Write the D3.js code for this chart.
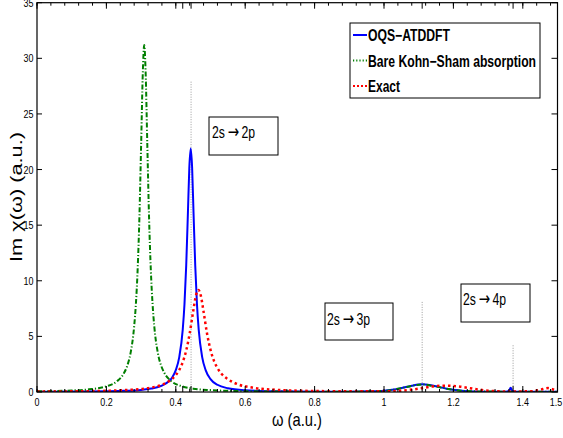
<!DOCTYPE html>
<html>
<head>
<meta charset="utf-8">
<script src="https://cdn.jsdelivr.net/npm/d3@7"></script>
<style>
  body { margin: 0; background: #fff; }
  text { font-family: "Liberation Sans", Arial, sans-serif; }
</style>
</head>
<body>
<div id="chart"></div>
<script>
// OQS-ATDDFT (blue, solid)
var omegaBlue = [0, 0.1, 0.2, 0.25, 0.3, 0.33, 0.36, 0.38, 0.39, 0.40, 0.41, 0.42, 0.425, 0.43, 0.435, 0.439, 0.443,
    0.447, 0.451, 0.456, 0.461, 0.466, 0.476, 0.486, 0.5, 0.52, 0.55, 0.6, 0.7, 0.8, 0.9, 0.95, 1.0, 1.03, 1.06,
    1.08, 1.1, 1.112, 1.125, 1.14, 1.16, 1.18, 1.2, 1.23, 1.26, 1.3, 1.35, 1.36, 1.365, 1.37, 1.38, 1.45, 1.5];
var imBlue = [0.02, 0.034, 0.068, 0.107, 0.19, 0.31, 0.57, 0.96, 1.33, 1.97, 3.14, 5.61, 7.89, 11.37, 16.2, 20.2, 21.9,
    20.2, 16.2, 11.37, 7.89, 5.61, 3.14, 1.97, 1.16, 0.65, 0.34, 0.16, 0.06, 0.03, 0.03, 0.06, 0.12, 0.22, 0.42,
    0.56, 0.67, 0.69, 0.66, 0.58, 0.44, 0.3, 0.2, 0.1, 0.05, 0.03, 0.03, 0.1, 0.38, 0.1, 0.03, 0.02, 0.02];

// Bare Kohn-Sham absorption (green, dash-dot)
var omegaGreen = [0, 0.1, 0.15, 0.2, 0.23, 0.25, 0.26, 0.27, 0.28, 0.285, 0.29, 0.295, 0.3, 0.305, 0.309, 0.313,
    0.318, 0.323, 0.328, 0.333, 0.338, 0.348, 0.358, 0.368, 0.388, 0.418, 0.45, 0.5, 0.6, 0.7, 0.8, 0.9, 1.0,
    1.05, 1.08, 1.11, 1.14, 1.18, 1.22, 1.3, 1.4, 1.5];
var imGreen = [0.064, 0.14, 0.24, 0.51, 0.95, 1.66, 2.35, 3.56, 5.9, 7.92, 10.98, 15.6, 22.1, 28.8, 31.2, 28.8,
    22.1, 15.6, 10.98, 7.92, 5.9, 3.56, 2.35, 1.66, 0.95, 0.51, 0.3, 0.17, 0.072, 0.04, 0.03, 0.03, 0.1,
    0.35, 0.55, 0.68, 0.55, 0.3, 0.12, 0.04, 0.03, 0.03];

// Exact (red, dotted)
var omegaRed = [0, 0.1, 0.2, 0.25, 0.3, 0.33, 0.36, 0.38, 0.4, 0.41, 0.42, 0.43, 0.44, 0.45, 0.458, 0.465, 0.472,
    0.48, 0.49, 0.5, 0.51, 0.52, 0.53, 0.55, 0.58, 0.62, 0.7, 0.8, 0.9, 1.0, 1.05, 1.1, 1.14, 1.18, 1.22, 1.26,
    1.3, 1.35, 1.42, 1.45, 1.473, 1.49, 1.5];
var imRed = [0.036, 0.058, 0.108, 0.164, 0.27, 0.4, 0.65, 0.96, 1.52, 1.99, 2.69, 3.73, 5.26, 7.23, 8.67, 9.17, 8.67,
    7.23, 5.26, 3.8, 2.8, 2.15, 1.7, 1.15, 0.68, 0.4, 0.18, 0.09, 0.06, 0.06, 0.12, 0.3, 0.5, 0.57, 0.48, 0.28,
    0.12, 0.05, 0.06, 0.2, 0.35, 0.2, 0.1];

// transition markers (dotted gray lines) and tick labels
var transitionOmega = [0.444, 1.11, 1.372];
var transitionTop = [27.9, 8.1, 4.2];
var xTickLabels = ["0", "0.2", "0.4", "0.6", "0.8", "1", "1.2", "1.4", "1.5"];
var xTickValues = [0, 0.2, 0.4, 0.6, 0.8, 1, 1.2, 1.4, 1.5];
var yTickValues = [0, 5, 10, 15, 20, 25, 30, 35];
var seriesNames = ["OQS\u2212ATDDFT", "Bare Kohn\u2212Sham absorption", "Exact"];

var width = 563, height = 438;
var margin = {top: 2.7, right: 5.5, bottom: 46, left: 37};

var svg = d3.select("#chart").append("svg")
    .attr("width", width)
    .attr("height", height);

var x = d3.scaleLinear().domain([0, 1.5]).range([margin.left, width - margin.right]);
var y = d3.scaleLinear().domain([0, 35]).range([height - margin.bottom, margin.top]);

// narrow text: the original uses a condensed Helvetica
function narrowText(sel, tx, ty, sx) {
    return sel.append("text")
        .attr("transform", "translate(" + tx + "," + ty + ") scale(" + sx + ",1)");
}

var plot = svg.append("g");

svg.append("clipPath").attr("id", "clip")
    .append("rect")
    .attr("x", margin.left).attr("y", margin.top)
    .attr("width", x(1.5) - x(0)).attr("height", y(0) - y(35));

// dotted transition lines
plot.selectAll("line.trans")
    .data(transitionOmega)
    .enter().append("line")
    .attr("class", "trans")
    .attr("x1", function(d) { return x(d); })
    .attr("x2", function(d) { return x(d); })
    .attr("y1", function(d, i) { return y(transitionTop[i]); })
    .attr("y2", y(0))
    .attr("stroke", "#9a9a9a")
    .attr("stroke-width", 1)
    .attr("stroke-dasharray", "1,1.5");

var line = d3.line()
    .x(function(d) { return x(d[0]); })
    .y(function(d) { return y(d[1]); })
    .curve(d3.curveMonotoneX);

function pairs(xs, ys) {
    return xs.map(function(v, i) { return [v, ys[i]]; });
}

var curves = plot.append("g").attr("clip-path", "url(#clip)");

curves.append("path")
    .datum(pairs(omegaBlue, imBlue))
    .attr("d", line)
    .attr("fill", "none")
    .attr("stroke", "#0000ff")
    .attr("stroke-width", 2);

curves.append("path")
    .datum(pairs(omegaGreen, imGreen))
    .attr("d", line)
    .attr("fill", "none")
    .attr("stroke", "#007f00")
    .attr("stroke-width", 2)
    .attr("stroke-dasharray", "5,2,1.2,2");

curves.append("path")
    .datum(pairs(omegaRed, imRed))
    .attr("d", line)
    .attr("fill", "none")
    .attr("stroke", "#ff0000")
    .attr("stroke-width", 2.5)
    .attr("stroke-dasharray", "2.5,3");

// frame
svg.append("rect")
    .attr("x", x(0)).attr("y", y(35))
    .attr("width", x(1.5) - x(0)).attr("height", y(0) - y(35))
    .attr("fill", "none")
    .attr("stroke", "#000")
    .attr("stroke-width", 1.2);

// x ticks (bottom and top, inward)
var xMinor = d3.range(0, 1.5, 0.04);
var xExtra = [0.42, 0.444, 1.11, 1.372];
var ticks = svg.append("g").attr("stroke", "#000").attr("stroke-width", 1);
[y(0), y(35)].forEach(function(y0, k) {
    var dir = k === 0 ? -1 : 1;
    xMinor.forEach(function(v) {
        ticks.append("line").attr("x1", x(v)).attr("x2", x(v))
            .attr("y1", y0).attr("y2", y0 + dir * 3);
    });
    xTickValues.concat(xExtra).forEach(function(v) {
        ticks.append("line").attr("x1", x(v)).attr("x2", x(v))
            .attr("y1", y0).attr("y2", y0 + dir * 6);
    });
});
// y ticks (left and right, inward)
yTickValues.forEach(function(v) {
    ticks.append("line").attr("x1", x(0)).attr("x2", x(0) + 5)
        .attr("y1", y(v)).attr("y2", y(v));
    ticks.append("line").attr("x1", x(1.5)).attr("x2", x(1.5) - 6)
        .attr("y1", y(v)).attr("y2", y(v));
});

// tick labels
xTickValues.forEach(function(v, i) {
    var px = x(v);
    if (v === 1.5) px = 556;
    narrowText(svg, px, 406, 0.78)
        .attr("text-anchor", "middle")
        .attr("font-size", 11.5)
        .text(xTickLabels[i]);
});
yTickValues.forEach(function(v) {
    narrowText(svg, 33.5, y(v) + 4, 0.78)
        .attr("text-anchor", "end")
        .attr("font-size", 11.5)
        .text(v);
});

// axis titles
svg.append("text")
    .attr("x", 272)
    .attr("y", 426)
    .attr("font-size", 19)
    .attr("textLength", 50)
    .attr("lengthAdjust", "spacingAndGlyphs")
    .text("\u03c9 (a.u.)");

svg.append("text")
    .attr("transform", "translate(21.5,262) rotate(-90)")
    .attr("font-size", 16)
    .attr("textLength", 130)
    .attr("lengthAdjust", "spacingAndGlyphs")
    .text("Im \u03c7(\u03c9) (a.u.)");

// annotation boxes
var boxes = [
    {x: 209, y: 117, w: 69, h: 38, tx: 212, ty: 138, a: "2s", b: "2p"},
    {x: 325, y: 303, w: 68, h: 37, tx: 327, ty: 325, a: "2s", b: "3p"},
    {x: 461, y: 284, w: 69, h: 38, tx: 463, ty: 305, a: "2s", b: "4p"}
];
boxes.forEach(function(bx) {
    svg.append("rect")
        .attr("x", bx.x).attr("y", bx.y).attr("width", bx.w).attr("height", bx.h)
        .attr("fill", "#fff").attr("stroke", "#000").attr("stroke-width", 1);
    var t = narrowText(svg, bx.tx, bx.ty, 0.72).attr("font-size", 17);
    t.append("tspan").text(bx.a);
    t.append("tspan").attr("dx", 4).attr("font-family", "DejaVu Sans").attr("font-size", 19).text("\u2192");
    t.append("tspan").attr("dx", 3).text(bx.b);
});

// legend
var legend = svg.append("g");
legend.append("rect")
    .attr("x", 350).attr("y", 23).attr("width", 190).attr("height", 75)
    .attr("fill", "#fff").attr("stroke", "#000").attr("stroke-width", 1);
var legendColors = ["#0000ff", "#007f00", "#ff0000"];
var legendDash = [null, "1.2,2", "2,2"];
var legendLen = [82, 168, 32];
seriesNames.forEach(function(name, i) {
    var ly = 35 + i * 25.5;
    legend.append("line")
        .attr("x1", 353).attr("x2", 367)
        .attr("y1", ly).attr("y2", ly)
        .attr("stroke", legendColors[i])
        .attr("stroke-width", 2)
        .attr("stroke-dasharray", legendDash[i]);
    legend.append("text")
        .attr("x", 368).attr("y", ly + 6)
        .attr("font-size", 16)
        .attr("font-weight", "bold")
        .attr("textLength", legendLen[i])
        .attr("lengthAdjust", "spacingAndGlyphs")
        .text(name);
});
</script>
</body>
</html>
